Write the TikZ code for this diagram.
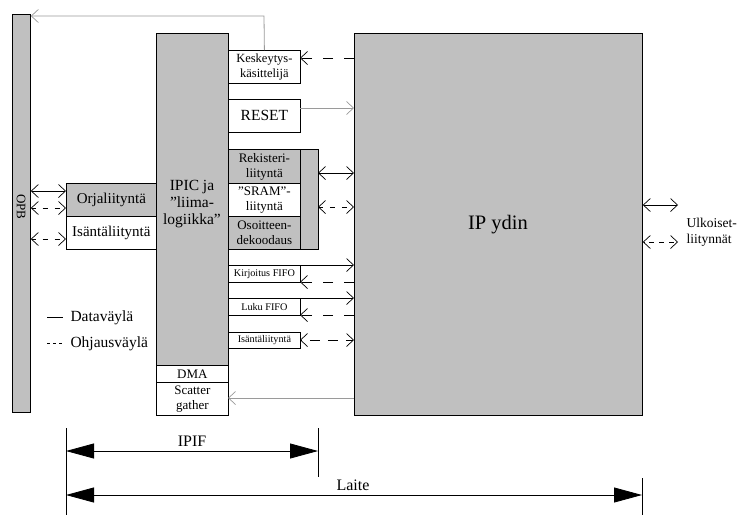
\documentclass[tikz,border=0pt]{standalone}
\usepackage{fontspec}
\setmainfont{Liberation Serif}
\usetikzlibrary{arrows.meta}
\definecolor{boxgray}{HTML}{C0C0C0}
\definecolor{linegray}{HTML}{9A9A9A}
\newcommand{\fs}[2]{\fontsize{#1}{#2}\selectfont}
\tikzset{
  box/.style={draw, line width=0.8pt, inner sep=0pt, anchor=north west, align=center},
  gbox/.style={box, fill=boxgray},
  barb/.tip={Straight Barb[length=7pt,width=13pt,line width=0.7pt]},
  dat/.style={line width=0.8pt},
  ctl/.style={line width=0.8pt, dash pattern=on 10pt off 11pt},
  sctl/.style={line width=0.8pt, dash pattern=on 5pt off 7pt, dash phase=-11pt},
  gline/.style={line width=0.8pt, draw=linegray},
  dimtip/.tip={Triangle[length=28pt,width=15pt]},
}
\begin{document}
\begin{tikzpicture}[x=1pt,y=-1pt]
\useasboundingbox (0,0) rectangle (743,515);
% main blocks
\node[gbox, minimum width=18pt, minimum height=398pt] (opb) at (12,14) {};
\node[rotate=-90, font=\fs{13}{13}] (opbt) at (21,207) {OPB};
\node[gbox, minimum width=72pt, minimum height=332pt] (ipic) at (156,33) {};
\node[align=center, font=\fs{15.5}{17}] (ipict) at (192,204) {IPIC ja\\”liima-\\logiikka”};
\node[box, minimum width=72pt, minimum height=17pt, font=\fs{13}{14}] (dma) at (156,365) {DMA};
\node[box, minimum width=72pt, minimum height=33pt, font=\fs{13}{15}] (sg) at (156,382) {Scatter\\gather};
\node[gbox, minimum width=288pt, minimum height=382pt] (ip) at (354,33) {};
\node[font=\fs{20.5}{22}] (ipt) at (498,225) {IP ydin};
% right column boxes
\node[box, minimum width=72pt, minimum height=33pt, font=\fs{12.5}{15}] (kes) at (228,50) {Keskeytys-\\käsittelijä};
\node[box, minimum width=72pt, minimum height=33pt, font=\fs{15.5}{16}] (reset) at (228,99) {RESET};
\node[gbox, minimum width=72pt, minimum height=34pt, font=\fs{13}{15}] (reg) at (228,149) {Rekisteri-\\liityntä};
\node[box, minimum width=72pt, minimum height=33pt, font=\fs{13}{15}] (sram) at (228,183) {”SRAM”-\\liityntä};
\node[gbox, minimum width=72pt, minimum height=33pt, font=\fs{13}{15}] (osoit) at (228,216) {Osoitteen-\\dekoodaus};
\node[gbox, minimum width=18pt, minimum height=100pt] (rbar) at (300,149) {};
\node[box, minimum width=72pt, minimum height=17pt, font=\fs{10.2}{11}] (kf) at (228,265) {Kirjoitus FIFO};
\node[box, minimum width=72pt, minimum height=17pt, font=\fs{10.2}{11}] (lf) at (228,298) {Luku FIFO};
\node[box, minimum width=72pt, minimum height=16pt, font=\fs{10.2}{11}] (isa2) at (228,332) {Isäntäliityntä};
% left boxes
\node[gbox, minimum width=90pt, minimum height=33pt, font=\fs{15}{16}] (orja) at (66,183) {Orjaliityntä};
\node[box, minimum width=90pt, minimum height=33pt, font=\fs{15}{16}] (isa) at (66,216) {Isäntäliityntä};
% coordinates for connector ends
\coordinate (kesA) at (300,58);
\coordinate (resA) at (300,108);
\coordinate (rbA) at (318,173);
\coordinate (rbB) at (318,207);
\coordinate (orA) at (66,191);
\coordinate (orB) at (66,208);
\coordinate (isA) at (66,239);
\coordinate (kfA) at (228,265);
\coordinate (kfB) at (300,282);
\coordinate (lfA) at (228,298);
\coordinate (lfB) at (300,315);
\coordinate (i2A) at (300,340);
\coordinate (sgA) at (228,398);
\coordinate (topA) at (264,16);
\coordinate (ex1) at (678,205);
\coordinate (ex2) at (678,242);
% connectors
\draw[gline, -{barb[linegray]}] (kes.north) -- (topA) -- (opb.east |- topA);
\draw[ctl, -barb] (ip.west |- kesA) -- (kesA);
\draw[gline, -{barb[linegray]}] (resA) -- (ip.west |- resA);
\draw[dat, barb-barb] (rbA) -- (ip.west |- rbA);
\draw[sctl, barb-barb] (rbB) -- (ip.west |- rbB);
\draw[dat, barb-barb] (opb.east |- orA) -- (orA);
\draw[sctl, barb-barb] (opb.east |- orB) -- (orB);
\draw[sctl, barb-barb] (opb.east |- isA) -- (isA);
\draw[dat, -barb] (kfA) -- (ip.west |- kfA);
\draw[ctl, -barb] (ip.west |- kfB) -- (kfB);
\draw[dat, -barb] (lfA) -- (ip.west |- lfA);
\draw[ctl, -barb] (ip.west |- lfB) -- (lfB);
\draw[line width=0.8pt, dash pattern=on 10pt off 8pt, dash phase=-9pt, barb-barb] (i2A) -- (ip.west |- i2A);
\draw[gline, -{barb[linegray]}] (ip.west |- sgA) -- (sgA);
\draw[dat, barb-barb] (ip.east |- ex1) -- (ex1);
\draw[line width=0.8pt, dash pattern=on 5pt off 5pt, dash phase=-15.5pt, barb-barb] (ip.east |- ex2) -- (ex2);
\node[anchor=west, align=left, font=\fs{13.5}{16}] (ext) at (683,232) {Ulkoiset-\\liitynnät};
% legend
\coordinate (lg1a) at (47,317); \coordinate (lg1b) at (63,317);
\coordinate (lg2a) at (47,343); \coordinate (lg2b) at (63,343);
\draw[dat] (lg1a) -- (lg1b);
\draw[line width=0.8pt, dash pattern=on 3pt off 3pt] (lg2a) -- (lg2b);
\node[anchor=west, font=\fs{15.5}{16}] (lgt1) at (67,318) {Dataväylä};
\node[anchor=west, font=\fs{15.5}{16}] (lgt2) at (67,344) {Ohjausväylä};
% dimensions
\coordinate (d1a) at (66,428); \coordinate (d1b) at (66,515);
\coordinate (d2a) at (318,428); \coordinate (d2b) at (318,477);
\coordinate (d3a) at (642,478); \coordinate (d3b) at (642,515);
\draw[line width=0.6pt] (d1a) -- (d1b);
\draw[line width=0.6pt] (d2a) -- (d2b);
\draw[line width=0.6pt] (d3a) -- (d3b);
\draw[line width=0.8pt, dimtip-dimtip] (d1a |- 0,451) -- (d2a |- 0,451);
\draw[line width=0.8pt, dimtip-dimtip] (d1a |- 0,495) -- (d3a |- 0,495);
\node[font=\fs{16}{16}] (ipif) at (192,441) {IPIF};
\node[font=\fs{16}{16}] (laite) at (353,485) {Laite};
\end{tikzpicture}
\end{document}
